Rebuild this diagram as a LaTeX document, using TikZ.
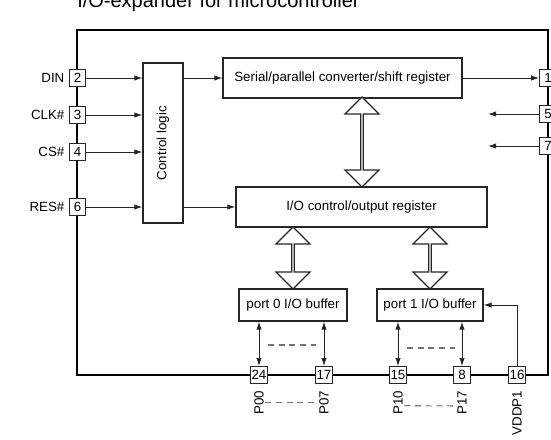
\documentclass[tikz,border=0pt]{standalone}
\usepackage{fontspec}
\setmainfont{Liberation Sans}
\usetikzlibrary{arrows.meta,positioning,shapes.arrows}

\begin{document}
\begin{tikzpicture}[x=0.75pt,y=-0.75pt]
\tikzset{
  block/.style={draw=black!85,line width=0.9pt,fill=white,inner sep=0pt,font=\fontsize{10}{12}\selectfont},
  pinbox/.style={draw=black!85,line width=0.8pt,fill=white,minimum size=12.5pt,inner sep=0pt,font=\fontsize{10}{12}\selectfont},
  pinlabel/.style={inner sep=1pt,font=\fontsize{10}{12}\selectfont},
  sig/.style={-{Latex[length=6pt,width=4pt]},draw=black!85,line width=0.7pt},
  bidir/.style={{Latex[length=6pt,width=4pt]}-{Latex[length=6pt,width=4pt]},draw=black!85,line width=0.7pt},
  busarrow/.style={double arrow,draw=black!85,line width=0.9pt,fill=white,inner sep=0pt,minimum width=25.5pt,double arrow head extend=5.25pt,rotate=90},
  dots/.style={draw=black!55,line width=0.8pt,dash pattern=on 4.5pt off 3.5pt}
}
\clip (0,0) rectangle (551,440);
% title
\node[anchor=base west,inner sep=0pt,font=\fontsize{15}{18}\selectfont] (n_title) at (77,7) {I/O-expander for microcontroller};
% chip frame
\draw[line width=1.5pt] (77,30) rectangle (548,375);
% blocks
\node[block,minimum width=30pt,minimum height=120pt] (n_ctrl) at (163,143) {\rotatebox{90}{Control logic}};
\node[block,minimum width=179.25pt,minimum height=30pt] (n_ser) at (342.5,78) {Serial/parallel converter/shift register};
\node[block,minimum width=188.25pt,minimum height=30pt] (n_io) at (361.5,207) {I/O control/output register};
\node[block,minimum width=81pt,minimum height=24pt] (n_buf0) at (293,305) {port 0 I/O buffer};
\node[block,minimum width=79.5pt,minimum height=24pt] (n_buf1) at (430,305) {port 1 I/O buffer};
% pins
\node[pinbox] (n_p2) at (77.5,78) {2};
\node[pinbox] (n_p3) at (77.5,115) {3};
\node[pinbox] (n_p4) at (77.5,152) {4};
\node[pinbox] (n_p6) at (77.5,207) {6};
\node[pinbox] (n_p1) at (548,78) {1};
\node[pinbox] (n_p5) at (548,114) {5};
\node[pinbox] (n_p7) at (548,146) {7};
\node[pinbox] (n_p24) at (259,375) {24};
\node[pinbox] (n_p17) at (324,375) {17};
\node[pinbox] (n_p15) at (398,375) {15};
\node[pinbox] (n_p8) at (462,375) {8};
\node[pinbox] (n_p16) at (517,375) {16};
\node[pinlabel,left=2pt of n_p2] (n_din) {DIN};
\node[pinlabel,left=2pt of n_p3] (n_clk) {CLK\#};
\node[pinlabel,left=2pt of n_p4] (n_cs) {CS\#};
\node[pinlabel,left=2pt of n_p6] (n_res) {RES\#};
\node[pinlabel,below=4pt of n_p24,anchor=east,rotate=90] (n_lp00) {P00};
\node[pinlabel,below=4pt of n_p17,anchor=east,rotate=90] (n_lp07) {P07};
\node[pinlabel,below=4pt of n_p15,anchor=east,rotate=90] (n_lp10) {P10};
\node[pinlabel,below=4pt of n_p8,anchor=east,rotate=90] (n_lp17) {P17};
\node[pinlabel,below=4pt of n_p16,anchor=east,rotate=90] (n_lvdd) {VDDP1};
\coordinate (c_p5) at (488,114);
\coordinate (c_p7) at (488,146);
% bus arrows
\node[busarrow,minimum height=67.5pt] (n_bus0) at (362,142) {};
\node[busarrow,minimum height=46.5pt] (n_bus1) at (293,258) {};
\node[busarrow,minimum height=46.5pt] (n_bus2) at (430,258) {};
% signals
\draw[sig] (n_p2.east) -- (n_p2 -| n_ctrl.west);
\draw[sig] (n_p3.east) -- (n_p3 -| n_ctrl.west);
\draw[sig] (n_p4.east) -- (n_p4 -| n_ctrl.west);
\draw[sig] (n_p6.east) -- (n_p6 -| n_ctrl.west);
\draw[sig] (n_p2 -| n_ctrl.east) -- (n_ser.west);
\draw[sig] (n_p6 -| n_ctrl.east) -- (n_io.west);
\draw[sig] (n_ser.east) -- (n_p1.west);
\draw[sig] (n_p5.west) -- (c_p5);
\draw[sig] (n_p7.west) -- (c_p7);
\draw[bidir] (n_p24 |- n_buf0.south) -- (n_p24.north);
\draw[bidir] (n_p17 |- n_buf0.south) -- (n_p17.north);
\draw[bidir] (n_p15 |- n_buf1.south) -- (n_p15.north);
\draw[bidir] (n_p8 |- n_buf1.south) -- (n_p8.north);
\draw[sig] (n_p16.north) |- (n_buf1.east);
% dashes
\draw[dots] (268,345) -- (316,345);
\draw[dots] (407,348) -- (455,348);
\draw[dots] (n_lp00.south) -- (n_lp07.north);
\draw[dots] (n_lp10.south) ++(0,3) -- (n_lp17.north |- 0,406);
\end{tikzpicture}
\end{document}
